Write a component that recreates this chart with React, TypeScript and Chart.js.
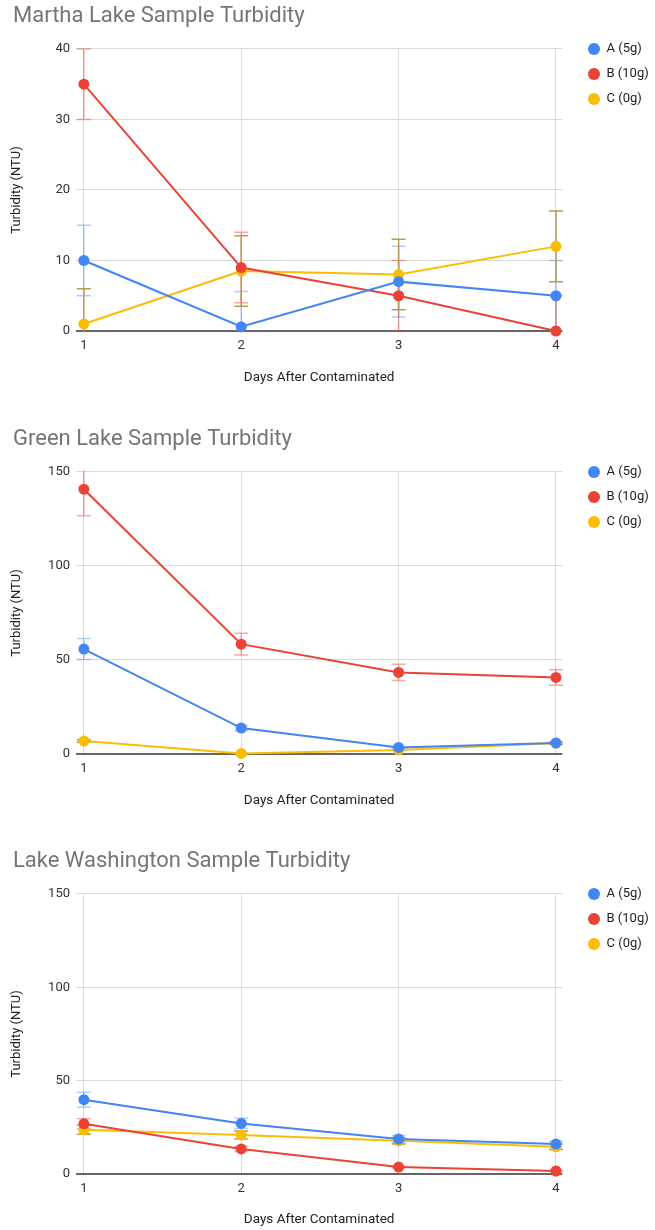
import React, { useEffect, useRef } from 'react';
import { Chart, registerables } from 'chart.js';

Chart.register(...registerables);

// ---- shared categories / labels ----
const days = [1, 2, 3, 4];
const dayTicks = [1, 2, 3, 4];
const seriesLabels = ['A (5g)', 'B (10g)', 'C (0g)'];
const seriesColors = ['#4285F4', '#EA4335', '#FBBC04'];
const errorColors = ['rgba(66,133,244,0.42)', 'rgba(234,67,53,0.45)', '#B89C55'];
const xAxisTitle = 'Days After Contaminated';
const yAxisTitle = 'Turbidity (NTU)';

// ---- Martha Lake ----
const marthaTitle = 'Martha Lake Sample Turbidity';
const marthaA = [10, 0.6, 7, 5];
const marthaB = [35, 9, 5, 0];
const marthaC = [1, 8.5, 8, 12];
const marthaErrA = [5, 5, 5, 5];
const marthaErrB = [5, 5, 5, 5];
const marthaErrC = [5, 5, 5, 5];
const marthaYTicks = [0, 10, 20, 30, 40];

// ---- Green Lake ----
const greenTitle = 'Green Lake Sample Turbidity';
const greenA = [55.8, 13.8, 3.5, 5.8];
const greenB = [140.8, 58.4, 43.4, 40.7];
const greenC = [6.9, 0.3, 2.1, 5.8];
const greenErrA = [5.6, 1.4, 0.4, 0.6];
const greenErrB = [14.1, 5.8, 4.3, 4.1];
const greenErrC = [0.7, 0.1, 0.2, 0.6];
const greenYTicks = [0, 50, 100, 150];

// ---- Lake Washington ----
const washTitle = 'Lake Washington Sample Turbidity';
const washA = [39.8, 27.1, 18.7, 16];
const washB = [26.9, 13.4, 3.7, 1.6];
const washC = [23.7, 20.9, 17.8, 14.6];
const washErrA = [4.0, 2.7, 1.9, 1.6];
const washErrB = [2.7, 1.3, 0.4, 0.2];
const washErrC = [2.4, 2.1, 1.8, 1.5];
const washYTicks = [0, 50, 100, 150];

const FONT = 'Roboto, Arial, sans-serif';

const errorBarPlugin = {
  id: 'errorBars',
  beforeDatasetsDraw(chart: any, _args: any, opts: any) {
    const { ctx, chartArea, scales } = chart;
    const xs = scales.x;
    const ys = scales.y;
    const errs: number[][] = opts.errors || [];
    const cols: string[] = opts.colors || [];
    ctx.save();
    ctx.beginPath();
    ctx.rect(chartArea.left - 10, chartArea.top - 1.5, chartArea.right - chartArea.left + 20, chartArea.bottom - chartArea.top + 3);
    ctx.clip();
    chart.data.datasets.forEach((ds: any, i: number) => {
      const e = errs[i];
      if (!e) return;
      ctx.strokeStyle = cols[i];
      ctx.lineWidth = 1.5;
      ds.data.forEach((p: any, j: number) => {
        const x = xs.getPixelForValue(p.x);
        const yHi = ys.getPixelForValue(p.y + e[j]);
        const yLo = ys.getPixelForValue(p.y - e[j]);
        ctx.beginPath();
        ctx.moveTo(x, yHi);
        ctx.lineTo(x, yLo);
        ctx.moveTo(x - 7, yHi);
        ctx.lineTo(x + 7, yHi);
        ctx.moveTo(x - 7, yLo);
        ctx.lineTo(x + 7, yLo);
        ctx.stroke();
      });
    });
    ctx.restore();
  },
};

const placePlugin = {
  id: 'placeBoxes',
  afterLayout(chart: any) {
    const lg = chart.legend;
    if (lg) {
      lg.left = 576;
      lg.right = chart.width;
      lg.width = lg.right - lg.left;
      lg.top = 30.5;
    }
    if (chart.titleBlock) {
      chart.titleBlock.left = 13;
    }
  },
};

type Props = {
  title: string;
  values: number[][];
  errors: number[][];
  yTicks: number[];
  top: number;
  height: number;
  plotBottom: number;
  xTitleCenter: number;
};

function TurbidityChart({ title, values, errors, yTicks, top, height, plotBottom, xTitleCenter }: Props) {
  const ref = useRef<HTMLCanvasElement | null>(null);
  useEffect(() => {
    if (!ref.current) return;
    const yMax = yTicks[yTicks.length - 1];
    const chart = new Chart(ref.current, {
      type: 'line',
      data: {
        datasets: values.map((vals, i) => ({
          label: seriesLabels[i],
          data: days.map((d, j) => ({ x: d, y: vals[j] })),
          borderColor: seriesColors[i],
          backgroundColor: seriesColors[i],
          pointBackgroundColor: seriesColors[i],
          pointBorderWidth: 0,
          pointRadius: 5.5,
          borderWidth: 2,
          tension: 0,
          clip: 8,
        })),
      },
      options: {
        animation: false,
        responsive: false,
        devicePixelRatio: 1,
        layout: { padding: { left: 0, right: 10, top: 0, bottom: 0 } },
        plugins: {
          title: {
            display: true,
            text: title,
            align: 'start',
            color: '#757575',
            font: { family: FONT, size: 22, weight: 'normal' },
            padding: { top: 3.5, bottom: 19 },
          },
          legend: {
            display: true,
            position: 'right',
            align: 'start',
            labels: {
              usePointStyle: true,
              pointStyle: 'circle',
              boxWidth: 12,
              boxHeight: 8.5,
              padding: 12,
              color: '#222',
              font: { family: FONT, size: 13 },
            },
          },
          tooltip: { enabled: false },
          errorBars: { errors, colors: errorColors },
        } as any,
        scales: {
          x: {
            type: 'linear',
            min: 0.95,
            max: 4.04,
            afterBuildTicks: (s: any) => {
              s.ticks = dayTicks.map((v) => ({ value: v }));
            },
            afterFit: (s: any) => {
              s.height = height - plotBottom;
            },
            ticks: { color: '#333', padding: 7, font: { family: FONT, size: 13 } },
            grid: { color: '#dadada', drawTicks: false },
            border: { display: false },
            title: {
              display: true,
              text: xAxisTitle,
              color: '#222',
              font: { family: FONT, size: 13.5 },
              padding: { top: 0, bottom: height - xTitleCenter - 8 },
            },
          },
          y: {
            type: 'linear',
            min: 0,
            max: yMax,
            afterBuildTicks: (s: any) => {
              s.ticks = yTicks.map((v) => ({ value: v }));
            },
            afterFit: (s: any) => {
              s.width = 76;
            },
            ticks: { color: '#333', padding: 6, font: { family: FONT, size: 13 } },
            grid: {
              color: (c: any) => (c.tick && c.tick.value === 0 ? '#666' : '#dadada'),
              lineWidth: (c: any) => (c.tick && c.tick.value === 0 ? 2 : 1),
              drawTicks: false,
            },
            border: { display: false },
            title: {
              display: true,
              text: yAxisTitle,
              color: '#222',
              font: { family: FONT, size: 13 },
              padding: { top: 9, bottom: 0 },
            },
          },
        },
      } as any,
      plugins: [errorBarPlugin, placePlugin] as any,
    });
    return () => chart.destroy();
  }, []);
  return (
    <div style={{ position: 'absolute', left: 0, top, width: 655, height }}>
      <canvas ref={ref} width={655} height={height} style={{ width: 655, height, display: 'block' }} />
    </div>
  );
}

export default function App() {
  return (
    <div style={{ position: 'absolute', left: 0, top: 0, width: 655, height: 1230, overflow: 'hidden', background: '#fff' }}>
      <TurbidityChart
        title={marthaTitle}
        values={[marthaA, marthaB, marthaC]}
        errors={[marthaErrA, marthaErrB, marthaErrC]}
        yTicks={marthaYTicks}
        top={0}
        height={420}
        plotBottom={331}
        xTitleCenter={378}
      />
      <TurbidityChart
        title={greenTitle}
        values={[greenA, greenB, greenC]}
        errors={[greenErrA, greenErrB, greenErrC]}
        yTicks={greenYTicks}
        top={423}
        height={420}
        plotBottom={331}
        xTitleCenter={378}
      />
      <TurbidityChart
        title={washTitle}
        values={[washA, washB, washC]}
        errors={[washErrA, washErrB, washErrC]}
        yTicks={washYTicks}
        top={845}
        height={385}
        plotBottom={329}
        xTitleCenter={375}
      />
    </div>
  );
}
